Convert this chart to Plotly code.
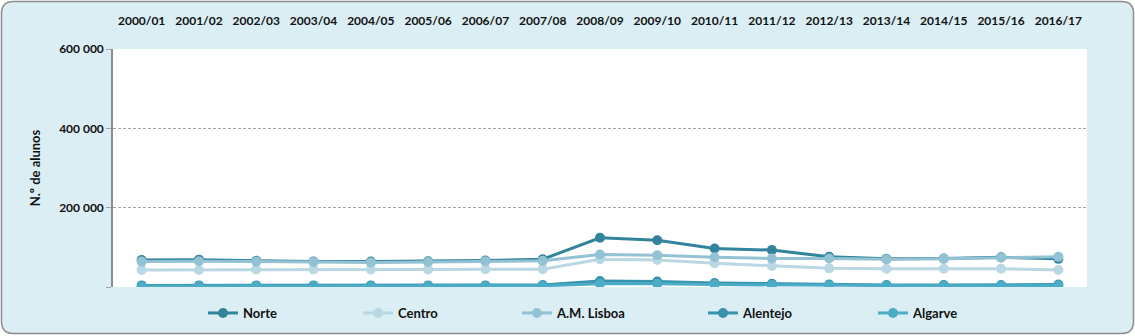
import plotly.graph_objects as go

# School years on the category axis
anos = ["2000/01", "2001/02", "2002/03", "2003/04", "2004/05", "2005/06",
        "2006/07", "2007/08", "2008/09", "2009/10", "2010/11", "2011/12",
        "2012/13", "2013/14", "2014/15", "2015/16", "2016/17"]

# Number of students per region (NUTS II)
norte = [68000, 69000, 66000, 64000, 64000, 65000, 67000, 70000, 124000,
         118000, 97000, 93000, 76000, 71000, 72000, 75000, 71000]
centro = [43000, 43000, 44000, 44000, 44000, 44000, 45000, 45000, 70000,
          68000, 60000, 53000, 47000, 46000, 46000, 46000, 43000]
lisboa = [64000, 65000, 64000, 63000, 62000, 63000, 65000, 66000, 82000,
          80000, 75000, 72000, 72000, 70000, 71000, 74000, 76000]
alentejo = [4000, 4000, 4000, 4000, 4000, 4000, 4000, 5000, 15000,
            14000, 10000, 8000, 6000, 5000, 5000, 5000, 6000]
algarve = [2000, 2000, 2000, 2000, 2000, 2000, 2000, 3000, 8000,
           8000, 6000, 5000, 4000, 3000, 3000, 3000, 4000]

y_ticks = [0, 200000, 400000, 600000]
y_labels = ["", "200 000", "400 000", "600 000"]

series = [
    ("Norte", norte, "#31849B"),
    ("Centro", centro, "#B9D8E3"),
    ("A.M. Lisboa", lisboa, "#92C2D3"),
    ("Alentejo", alentejo, "#3893AC"),
    ("Algarve", algarve, "#4BACC6"),
]

W, H = 1135, 336
ML, MR, MT, MB = 113, 48, 49, 49
PW, PH = W - ML - MR, H - MT - MB


def px(x):
    return (x - ML) / PW


def py(y):
    return (H - MB - y) / PH


FONT = "Lato"
TXT = "#111111"

fig = go.Figure()

legend_x = [210, 365, 524, 710, 880]
legend_names = ["legend", "legend2", "legend3", "legend4", "legend5"]

for (name, vals, col), lg in zip(series, legend_names):
    fig.add_trace(go.Scatter(
        x=anos, y=vals, name=name, mode="lines+markers",
        line=dict(color=col, width=3),
        marker=dict(color=col, size=10),
        legend=lg,
    ))

# rounded frame and white plotting area
x0, x1, y0, y1, r = 1.5, 1133.5, 1.5, 333.5, 12
path = (
    f"M {px(x0 + r)},{py(y0)} L {px(x1 - r)},{py(y0)} "
    f"Q {px(x1)},{py(y0)} {px(x1)},{py(y0 + r)} "
    f"L {px(x1)},{py(y1 - r)} Q {px(x1)},{py(y1)} {px(x1 - r)},{py(y1)} "
    f"L {px(x0 + r)},{py(y1)} Q {px(x0)},{py(y1)} {px(x0)},{py(y1 - r)} "
    f"L {px(x0)},{py(y0 + r)} Q {px(x0)},{py(y0)} {px(x0 + r)},{py(y0)} Z"
)
shapes = [
    dict(type="path", path=path, xref="paper", yref="paper", layer="below",
         fillcolor="#DBEEF4", line=dict(color="#8C8C8C", width=1.5)),
    dict(type="rect", x0=0, x1=1, y0=0, y1=1, xref="paper", yref="paper",
         layer="below", fillcolor="#FFFFFF", line=dict(width=0)),
]

layout = dict(
    width=W, height=H,
    margin=dict(l=ML, r=MR, t=MT, b=MB, autoexpand=False),
    paper_bgcolor="#FFFFFF",
    plot_bgcolor="#FFFFFF",
    font=dict(family=FONT, size=12, color=TXT),
    shapes=shapes,
    xaxis=dict(
        type="category", side="top", showgrid=False, zeroline=False,
        showline=False, ticks="", ticklabelstandoff=21,
        tickfont=dict(family=FONT, size=12, color=TXT, weight="bold"),
        range=[-0.5, len(anos) - 0.5],
    ),
    yaxis=dict(
        range=[0, 600000], tickvals=y_ticks, ticktext=y_labels,
        showgrid=True, gridcolor="#A3A3A3", griddash="3px,2px", gridwidth=1,
        zeroline=False, showline=True, linecolor="#8C8C8C", linewidth=1.5,
        ticks="outside", ticklen=5, tickcolor="#A3A3A3",
        tickfont=dict(family=FONT, size=12, color=TXT, weight="bold"),
        title=dict(text="N.º de alunos", standoff=16,
                   font=dict(family=FONT, size=13, color=TXT, weight="bold")),
    ),
    showlegend=True,
)

for lx, lg in zip(legend_x, legend_names):
    layout[lg] = dict(
        x=px(lx - 7), xanchor="left", y=py(313), yanchor="middle",
        bgcolor="rgba(0,0,0,0)", borderwidth=0, itemwidth=30,
        font=dict(family=FONT, size=13, color=TXT, weight="bold"),
    )

fig.update_layout(**layout)
fig.write_html("out.html")
